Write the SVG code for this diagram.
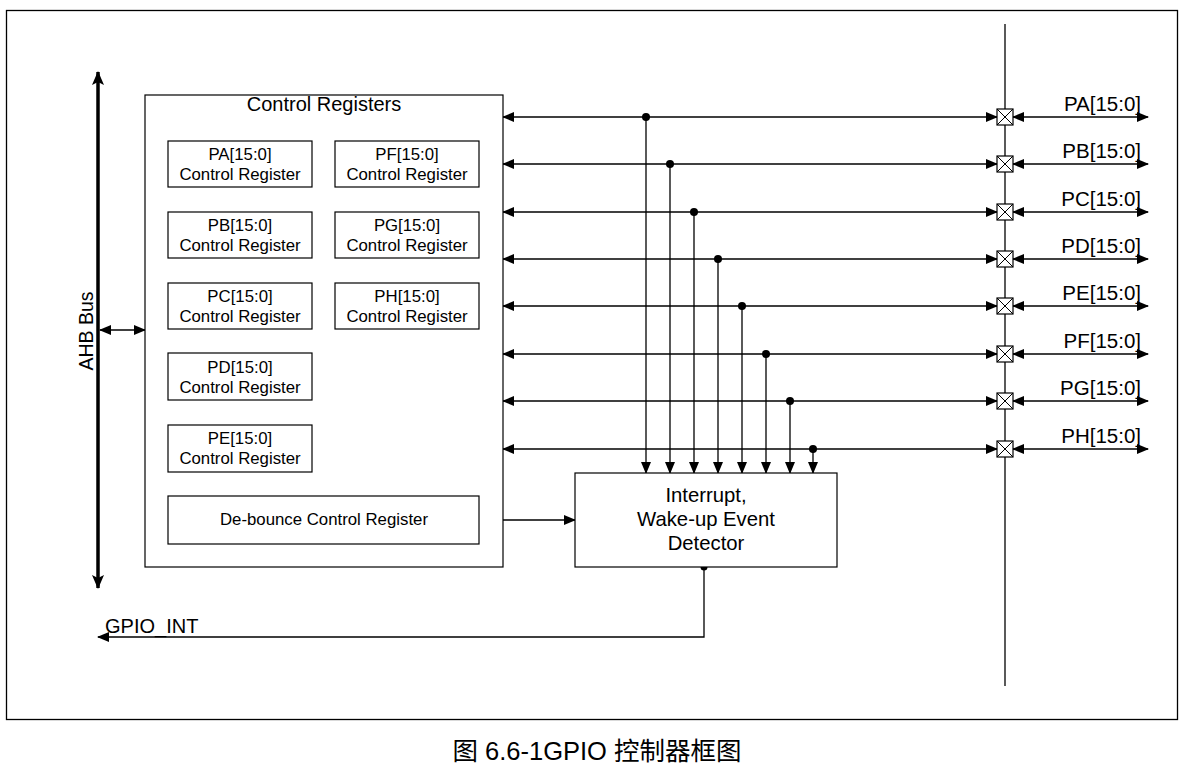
<svg xmlns="http://www.w3.org/2000/svg" width="1196" height="770" viewBox="0 0 1196 770">
<style>
.ln{stroke:#000;stroke-width:1.3;fill:none}
.bx{stroke:#000;stroke-width:1.2;fill:#fff}
.t{font-family:"Liberation Sans",Arial,sans-serif;fill:#000}
.r{font-size:16.8px;text-anchor:middle}
.p{font-size:20.5px;text-anchor:end}
.d{font-size:20.3px;text-anchor:middle}
</style>
<defs>
<marker id="ae" markerWidth="12" markerHeight="10" refX="11" refY="5" orient="auto" markerUnits="userSpaceOnUse"><path d="M0,0 L12,5 L0,10 Z" fill="#000"/></marker>
<marker id="as" markerWidth="12" markerHeight="10" refX="1" refY="5" orient="auto" markerUnits="userSpaceOnUse"><path d="M12,0 L0,5 L12,10 Z" fill="#000"/></marker>
<marker id="be" markerWidth="14" markerHeight="12" refX="13" refY="6" orient="auto" markerUnits="userSpaceOnUse"><path d="M0,0 L14,6 L0,12 L3,6 Z" fill="#000"/></marker>
<marker id="bs" markerWidth="14" markerHeight="12" refX="1" refY="6" orient="auto" markerUnits="userSpaceOnUse"><path d="M14,0 L0,6 L14,12 L11,6 Z" fill="#000"/></marker>
<g id="pad"><rect x="-8" y="-8" width="16" height="16" fill="#fff" stroke="#000" stroke-width="1.2"/><path d="M-8,-8 L8,8 M8,-8 L-8,8" stroke="#000" stroke-width="1"/></g>
</defs>
<rect width="1196" height="770" fill="#fff"/>
<rect id="frame" x="6.5" y="10.5" width="1171" height="709" fill="none" stroke="#000" stroke-width="1.3"/>

<g id="connectors">
<line x1="1005" y1="24" x2="1005" y2="686" class="ln"/>
<line x1="98" y1="72" x2="98" y2="588" stroke="#000" stroke-width="3.5" marker-start="url(#bs)" marker-end="url(#be)"/>
<line x1="100" y1="330" x2="145" y2="330" class="ln" marker-start="url(#as)" marker-end="url(#ae)"/>
<line x1="479" y1="520" x2="575" y2="520" class="ln" marker-end="url(#ae)"/>
<polyline points="704,567 704,637 98,637" class="ln" marker-end="url(#ae)"/>
<circle cx="704" cy="567" r="3.5" fill="#000"/>

<g id="lines">
<line x1="503" y1="117" x2="997" y2="117" class="ln" marker-start="url(#as)" marker-end="url(#ae)"/>
<line x1="503" y1="164" x2="997" y2="164" class="ln" marker-start="url(#as)" marker-end="url(#ae)"/>
<line x1="503" y1="212" x2="997" y2="212" class="ln" marker-start="url(#as)" marker-end="url(#ae)"/>
<line x1="503" y1="259" x2="997" y2="259" class="ln" marker-start="url(#as)" marker-end="url(#ae)"/>
<line x1="503" y1="306" x2="997" y2="306" class="ln" marker-start="url(#as)" marker-end="url(#ae)"/>
<line x1="503" y1="354" x2="997" y2="354" class="ln" marker-start="url(#as)" marker-end="url(#ae)"/>
<line x1="503" y1="401" x2="997" y2="401" class="ln" marker-start="url(#as)" marker-end="url(#ae)"/>
<line x1="503" y1="449" x2="997" y2="449" class="ln" marker-start="url(#as)" marker-end="url(#ae)"/>

<line x1="1013" y1="117" x2="1148" y2="117" class="ln" marker-start="url(#as)" marker-end="url(#ae)"/>
<line x1="1013" y1="164" x2="1148" y2="164" class="ln" marker-start="url(#as)" marker-end="url(#ae)"/>
<line x1="1013" y1="212" x2="1148" y2="212" class="ln" marker-start="url(#as)" marker-end="url(#ae)"/>
<line x1="1013" y1="259" x2="1148" y2="259" class="ln" marker-start="url(#as)" marker-end="url(#ae)"/>
<line x1="1013" y1="306" x2="1148" y2="306" class="ln" marker-start="url(#as)" marker-end="url(#ae)"/>
<line x1="1013" y1="354" x2="1148" y2="354" class="ln" marker-start="url(#as)" marker-end="url(#ae)"/>
<line x1="1013" y1="401" x2="1148" y2="401" class="ln" marker-start="url(#as)" marker-end="url(#ae)"/>
<line x1="1013" y1="449" x2="1148" y2="449" class="ln" marker-start="url(#as)" marker-end="url(#ae)"/>

<line x1="646" y1="117" x2="646" y2="473" class="ln" marker-end="url(#ae)"/>
<line x1="670" y1="164" x2="670" y2="473" class="ln" marker-end="url(#ae)"/>
<line x1="694" y1="212" x2="694" y2="473" class="ln" marker-end="url(#ae)"/>
<line x1="718" y1="259" x2="718" y2="473" class="ln" marker-end="url(#ae)"/>
<line x1="742" y1="306" x2="742" y2="473" class="ln" marker-end="url(#ae)"/>
<line x1="766" y1="354" x2="766" y2="473" class="ln" marker-end="url(#ae)"/>
<line x1="790" y1="401" x2="790" y2="473" class="ln" marker-end="url(#ae)"/>
<line x1="813" y1="449" x2="813" y2="473" class="ln" marker-end="url(#ae)"/>
<g fill="#000">
<circle cx="646" cy="117" r="4"/><circle cx="670" cy="164" r="4"/><circle cx="694" cy="212" r="4"/><circle cx="718" cy="259" r="4"/>
<circle cx="742" cy="306" r="4"/><circle cx="766" cy="354" r="4"/><circle cx="790" cy="401" r="4"/><circle cx="813" cy="449" r="4"/>
</g>
</g>
</g>

<g id="pads">
<use href="#pad" x="1005" y="117"/><use href="#pad" x="1005" y="164"/><use href="#pad" x="1005" y="212"/><use href="#pad" x="1005" y="259"/>
<use href="#pad" x="1005" y="306"/><use href="#pad" x="1005" y="354"/><use href="#pad" x="1005" y="401"/><use href="#pad" x="1005" y="449"/>
</g>

<g id="pin-labels" class="t p">
<text x="1141" y="111">PA[15:0]</text>
<text x="1141" y="158">PB[15:0]</text>
<text x="1141" y="206">PC[15:0]</text>
<text x="1141" y="253">PD[15:0]</text>
<text x="1141" y="300">PE[15:0]</text>
<text x="1141" y="348">PF[15:0]</text>
<text x="1141" y="395">PG[15:0]</text>
<text x="1141" y="443">PH[15:0]</text>
</g>

<text id="ahb-label" class="t" font-size="19.5" text-anchor="middle" transform="translate(93,331) rotate(-90)">AHB Bus</text>

<g id="control-registers">
<rect x="145" y="95" width="358" height="472" class="bx"/>
<text x="324" y="111" class="t" font-size="20" text-anchor="middle">Control Registers</text>
</g>

<g id="reg-pa"><rect x="168" y="141" width="144" height="46" class="bx"/><text class="t r" x="240" y="160">PA[15:0]</text><text class="t r" x="240" y="180">Control Register</text></g>
<g id="reg-pb"><rect x="168" y="212" width="144" height="46" class="bx"/><text class="t r" x="240" y="231">PB[15:0]</text><text class="t r" x="240" y="251">Control Register</text></g>
<g id="reg-pc"><rect x="168" y="283" width="144" height="46" class="bx"/><text class="t r" x="240" y="302">PC[15:0]</text><text class="t r" x="240" y="322">Control Register</text></g>
<g id="reg-pd"><rect x="168" y="353" width="144" height="47" class="bx"/><text class="t r" x="240" y="373">PD[15:0]</text><text class="t r" x="240" y="393">Control Register</text></g>
<g id="reg-pe"><rect x="168" y="425" width="144" height="47" class="bx"/><text class="t r" x="240" y="444">PE[15:0]</text><text class="t r" x="240" y="464">Control Register</text></g>
<g id="reg-pf"><rect x="335" y="141" width="144" height="46" class="bx"/><text class="t r" x="407" y="160">PF[15:0]</text><text class="t r" x="407" y="180">Control Register</text></g>
<g id="reg-pg"><rect x="335" y="212" width="144" height="46" class="bx"/><text class="t r" x="407" y="231">PG[15:0]</text><text class="t r" x="407" y="251">Control Register</text></g>
<g id="reg-ph"><rect x="335" y="283" width="144" height="46" class="bx"/><text class="t r" x="407" y="302">PH[15:0]</text><text class="t r" x="407" y="322">Control Register</text></g>
<g id="reg-debounce"><rect x="168" y="496" width="311" height="48" class="bx"/><text class="t r" x="324" y="525">De-bounce Control Register</text></g>

<g id="detector">
<rect x="575" y="473" width="262" height="94" class="bx"/>
<text class="t d" x="706" y="502">Interrupt,</text>
<text class="t d" x="706" y="526">Wake-up Event</text>
<text class="t d" x="706" y="550">Detector</text>
</g>

<text id="gpio-int" class="t" font-size="20" x="105" y="633">GPIO_INT</text>

<text id="caption" x="597" y="760" font-family="'Liberation Sans','Noto Sans CJK SC',sans-serif" font-size="25.5" text-anchor="middle" fill="#000">图 6.6-1GPIO 控制器框图</text>
</svg>
